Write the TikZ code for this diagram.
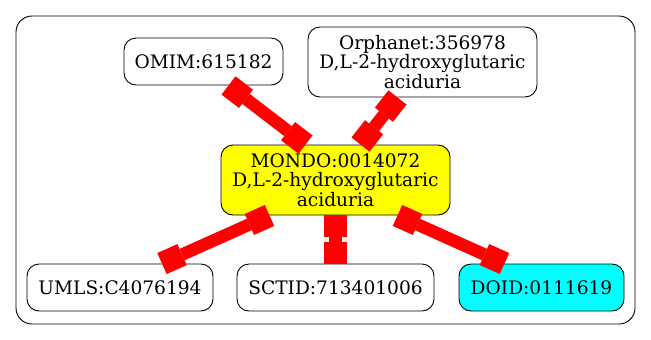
\documentclass[tikz,border=0pt]{standalone}
\usepackage{fontspec}
\setmainfont{DejaVu Serif}
\usetikzlibrary{arrows.meta}
\definecolor{termyellow}{RGB}{255,255,0}
\definecolor{termcyan}{RGB}{0,255,255}
\definecolor{linkred}{RGB}{255,0,0}
\tikzset{
  term/.style={draw=black, line width=0.9bp, rounded corners=12bp, inner sep=0pt,
    align=center, font=\fontsize{18.6bp}{19.5bp}\selectfont, fill=white},
  frame/.style={draw=black, line width=0.9bp, rounded corners=16bp},
  xref/.style={draw=linkred, line width=12.5bp,
    {Square[length=22bp,width=23bp,line width=0pt]}-{Square[length=22bp,width=23bp,line width=0pt]}}
}
\begin{document}
\begin{tikzpicture}[x=1bp,y=-1bp]
\useasboundingbox (0,0) rectangle (651,339);
\draw[frame] (16,16) rectangle (635,324);

\node[term, minimum width=159bp, minimum height=47bp] (omim) at (203.5,61.5) {OMIM:615182};
\node[term, minimum width=229bp, minimum height=70bp] (orpha) at (422.5,62) {Orphanet:356978\\D,L-2-hydroxyglutaric\\aciduria};
\node[term, fill=termyellow, minimum width=229bp, minimum height=70bp] (mondo) at (335.5,180) {MONDO:0014072\\D,L-2-hydroxyglutaric\\aciduria};
\node[term, minimum width=186bp, minimum height=47bp] (umls) at (120,287.5) {UMLS:C4076194};
\node[term, minimum width=197bp, minimum height=47bp] (sctid) at (335.5,287.5) {SCTID:713401006};
\node[term, fill=termcyan, minimum width=165bp, minimum height=47bp] (doid) at (541.5,287.5) {DOID:0111619};

\draw[xref] ([xshift=25bp]omim.south) -- ([xshift=-30bp]mondo.north);
\draw[xref] ([xshift=-25bp]orpha.south) -- ([xshift=25bp]mondo.north);
\draw[xref] ([xshift=-66bp]mondo.south) -- ([xshift=42bp]umls.north);
\draw[xref] (mondo.south) -- (sctid.north);
\draw[xref] ([xshift=62bp]mondo.south) -- ([xshift=-37bp]doid.north);
\end{tikzpicture}
\end{document}
